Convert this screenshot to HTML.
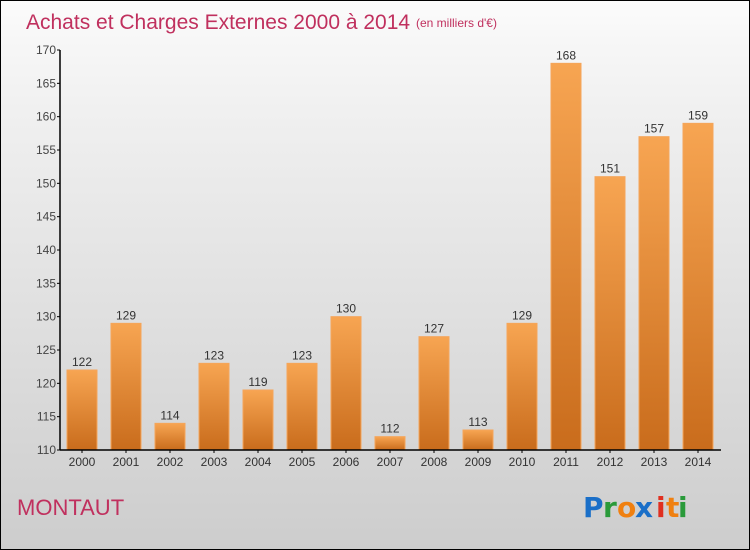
<!DOCTYPE html>
<html><head><meta charset="utf-8"><style>
body{margin:0}
#wrap{width:748px;height:548px;border:1px solid #000;background:linear-gradient(#fbfbfb,#f0f0f0 20%,#cdcdcd);position:relative;overflow:hidden;font-family:"Liberation Sans",sans-serif}
</style></head><body>
<div id="wrap">
<svg id="chart" width="748" height="548">
<defs><linearGradient id="bg" x1="0" y1="0" x2="0" y2="1"><stop offset="0" stop-color="#f7a552"/><stop offset="1" stop-color="#c96c1c"/></linearGradient></defs>
<text x="25" y="28" font-size="21" fill="#c0305e">Achats et Charges Externes 2000 à 2014</text>
<text x="415" y="26" font-size="12" fill="#c0305e">(en milliers d'€)</text>
<text x="16" y="514" font-size="22" fill="#c0305e">MONTAUT</text>
<g font-size="28" font-weight="bold" font-family="'DejaVu Sans',sans-serif">
<text x="582" y="516" fill="#1a6fc8">P</text><text x="602" y="516" fill="#2a9a3a">r</text><text x="616" y="516" fill="#f08010">o</text><text x="634" y="516" fill="#1a6fc8">x</text><text x="655" y="516" fill="#e03020">i</text><text x="665" y="516" fill="#f08010">t</text><text x="677" y="516" fill="#2a9a3a">i</text>
</g>
<g id="g"></g>
</svg>
</div>
<script>
const years=["2000","2001","2002","2003","2004","2005","2006","2007","2008","2009","2010","2011","2012","2013","2014"];
const values=[122,129,114,123,119,123,130,112,127,113,129,168,151,157,159];
const ticks=[110,115,120,125,130,135,140,145,150,155,160,165,170];
const yMin=110,yMax=170,yTop=49,yBot=449,xLeft=59;
const yS=v=>yBot-(v-yMin)/(yMax-yMin)*(yBot-yTop);
const xS=i=>81+i*44;
const g=document.getElementById('g');const ns='http://www.w3.org/2000/svg';
function mk(t,a){const e=document.createElementNS(ns,t);for(const k in a)e.setAttribute(k,a[k]);g.appendChild(e);return e;}
values.forEach((v,i)=>{
 const r=mk('rect',{x:xS(i)-15,y:yS(v),width:30,height:yBot-yS(v),fill:'url(#bg)',stroke:'#f5a55a','stroke-width':1});
 
 
 const t=mk('text',{x:xS(i),y:yS(v)-4,'text-anchor':'middle','font-size':12,fill:'#333'});t.textContent=v;
 
 
 const xt=mk('line',{x1:xS(i),x2:xS(i),y1:yBot,y2:yBot+3,stroke:'#000'});
 
 
 const l=mk('text',{x:xS(i),y:yBot+16,'text-anchor':'middle','font-size':12,fill:'#333'});l.textContent=years[i];
 
 
});
ticks.forEach(v=>{
 const tk=mk('line',{x1:xLeft-3,x2:xLeft,y1:yS(v),y2:yS(v),stroke:'#000'});
 
 
 const t=mk('text',{x:xLeft-4,y:yS(v)+4,'text-anchor':'end','font-size':12,fill:'#444'});t.textContent=v;
 
 
});
const ya=mk('line',{x1:xLeft,x2:xLeft,y1:yTop,y2:yBot,stroke:'#000','stroke-width':1.5});


const xa=mk('line',{x1:xLeft,x2:720,y1:yBot,y2:yBot,stroke:'#000','stroke-width':1.5});


</script>
</body></html>
